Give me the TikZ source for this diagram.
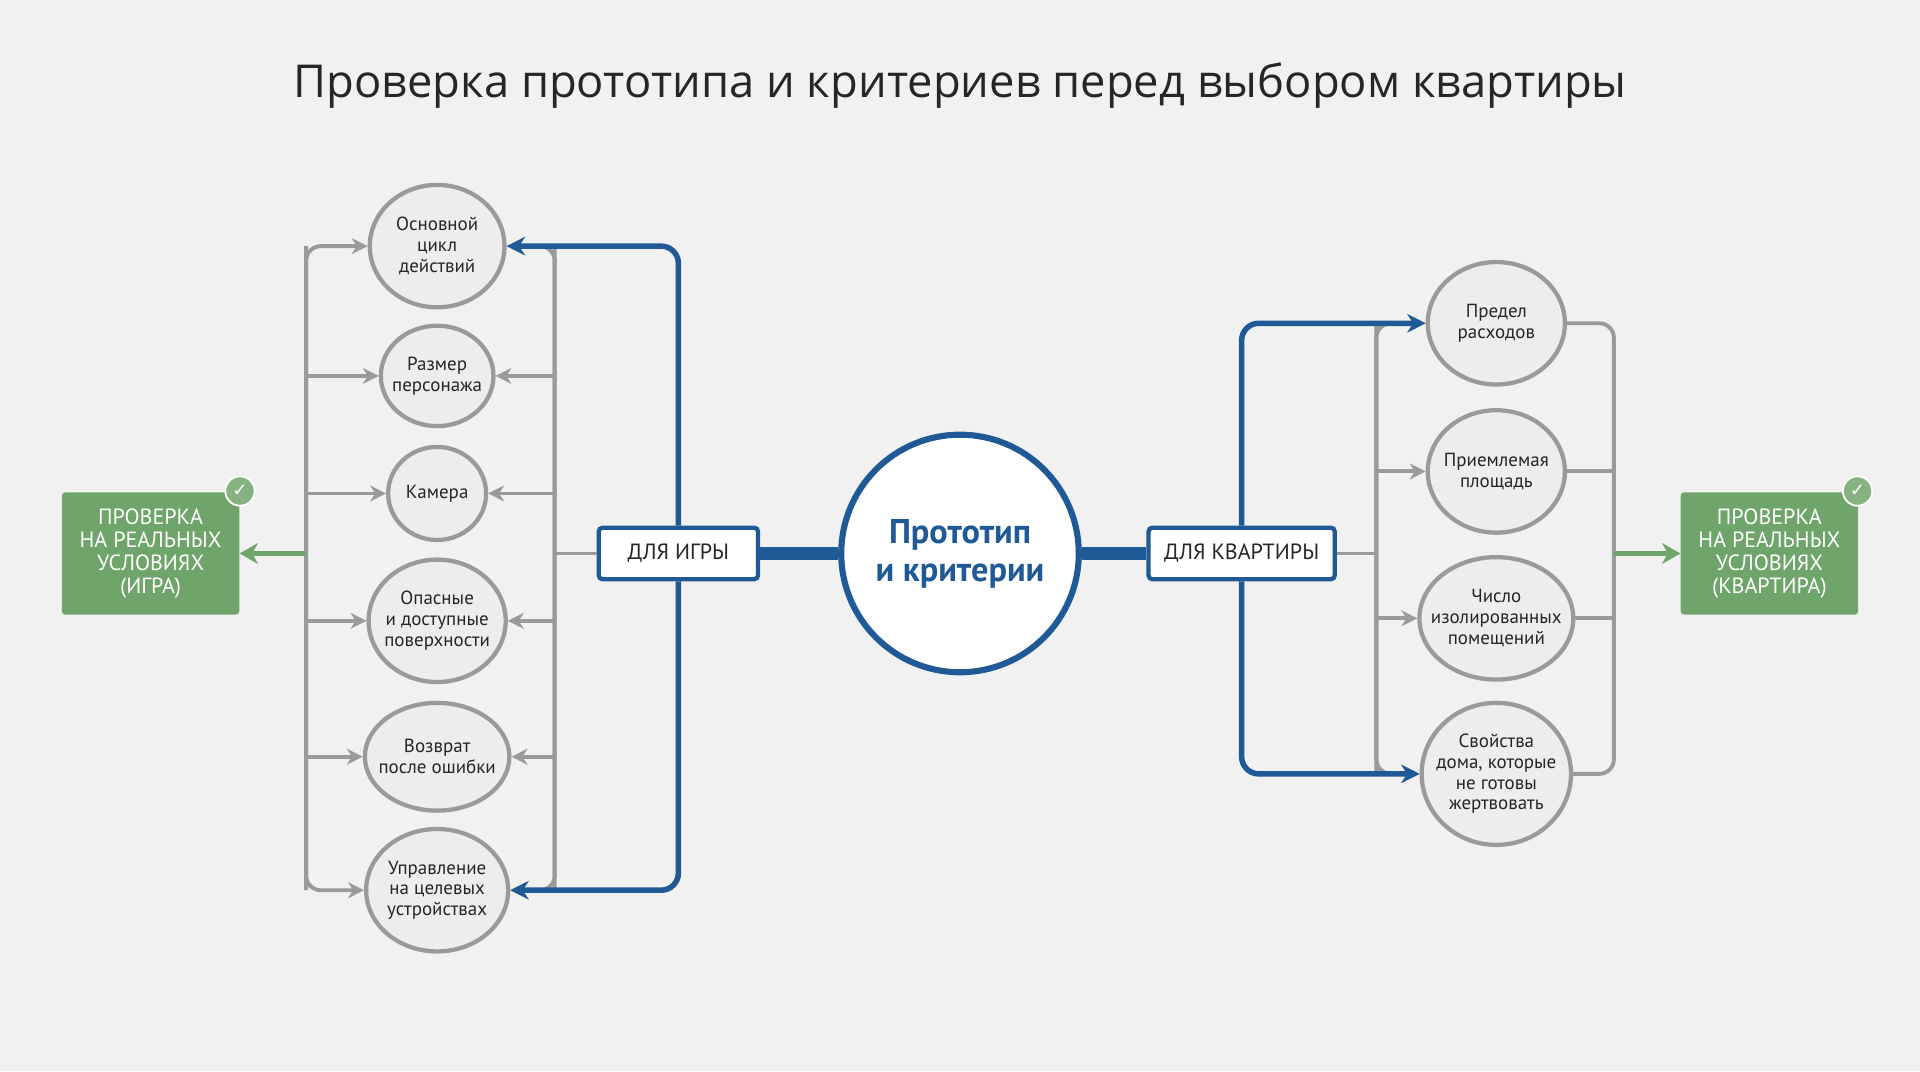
\documentclass[tikz,border=0pt]{standalone}
\usepackage{fontspec}
\setmainfont{PT Sans}
\newfontfamily\titlefont{Open Sans}
\newfontfamily\symfont{DejaVu Sans}
\usetikzlibrary{shapes.geometric,arrows.meta}
\definecolor{bg}{HTML}{F0F1F0}
\definecolor{gr}{HTML}{9A9A9A}
\definecolor{bl}{HTML}{1F5A96}
\definecolor{gn}{HTML}{6FA56A}
\definecolor{cf}{HTML}{EDEDED}
\begin{document}
\begin{tikzpicture}[x=1pt,y=-1pt,
  crit/.style={ellipse,draw=gr,line width=3.5pt,fill=cf,inner sep=-9pt,align=center,font=\fontsize{15.5}{17}\selectfont,text=black!85},
  gl/.style={draw=gr,line width=3.2pt,rounded corners=12pt},
  ga/.style={gl,-{Stealth[length=13pt,width=13pt]}},
  bla/.style={draw=bl,line width=4.5pt,rounded corners=14pt,-{Stealth[length=15pt,width=15pt]}},
  tag/.style={draw=bl,line width=3.5pt,fill=white,rounded corners=3pt,minimum height=42pt,font=\fontsize{18}{18}\selectfont,text=black!85},
  gbox/.style={fill=gn,rounded corners=3pt,minimum width=145pt,minimum height=100pt,align=center,text=white,font=\fontsize{18}{19}\selectfont},
  chk/.style={circle,fill=gn!85,draw=white,line width=1.5pt,minimum size=24pt,inner sep=0pt,text=white,font=\symfont\fontsize{15}{15}\selectfont},
  garr/.style={draw=gn,line width=4pt,-{Stealth[length=15pt,width=17pt]}}]
\fill[bg] (0,0) rectangle (1568,875);
\useasboundingbox (0,0) rectangle (1568,875);
\node[font=\titlefont\fontsize{37}{40}\selectfont,text=black!85] (title) at (784,70) {Проверка прототипа и критериев перед выбором квартиры};

\node[circle,draw=bl,line width=5pt,fill=white,minimum size=194pt,align=center,text=bl,font=\bfseries\fontsize{28}{31}\selectfont] (core) at (784,452) {Прототип\\и критерии};
\node[tag,minimum width=130pt] (tg) at (554,452) {ДЛЯ ИГРЫ};
\node[tag,minimum width=152pt] (tk) at (1014,452) {ДЛЯ КВАРТИРЫ};
\draw[bl,line width=10pt] (tg.east) -- (core.west);
\draw[bl,line width=10pt] (core.east) -- (tk.west);

% left criteria
\node[crit,minimum width=110pt,minimum height=100pt] (a1) at (357,201) {Основной\\цикл\\действий};
\node[crit,minimum width=92pt,minimum height=82pt] (a2) at (357,307) {Размер\\персонажа};
\node[crit,minimum width=80pt,minimum height=76pt] (a3) at (357,403) {Камера};
\node[crit,minimum width=112pt,minimum height=100pt] (a4) at (357,507) {Опасные\\и доступные\\поверхности};
\node[crit,minimum width=118pt,minimum height=88pt] (a5) at (357,618) {Возврат\\после ошибки};
\node[crit,minimum width=116pt,minimum height=100pt] (a6) at (357,727) {Управление\\на целевых\\устройствах};

\coordinate (L) at (250,452);
\coordinate (R) at (453,452);
\node[gbox] (gl) at (123,452) {ПРОВЕРКА\\НА РЕАЛЬНЫХ\\УСЛОВИЯХ\\(ИГРА)};
\node[chk] (gc) at (196,401) {✓};

\draw[ga] (L |- a6) |- (a1.west);
\draw[ga] (L |- a1) |- (a6.west);
\foreach \n in {a2,a3,a4,a5} \draw[ga] (L |- \n) -- (\n.west);
\draw[garr] (L) -- (gl.east);

\draw[ga] (R |- a6) |- (a1.east);
\draw[ga] (R |- a1) |- (a6.east);
\foreach \n in {a2,a3,a4,a5} \draw[ga] (R |- \n) -- (\n.east);
\draw[gl] (tg.west) -- (R);

\draw[bla] (tg.north) |- (a1.east);
\draw[bla] (tg.south) |- (a6.east);

% right criteria
\node[crit,minimum width=112pt,minimum height=100pt] (b1) at (1222,264) {Предел\\расходов};
\node[crit,minimum width=112pt,minimum height=100pt] (b2) at (1222,385) {Приемлемая\\площадь};
\node[crit,minimum width=118pt,minimum height=100pt] (b3) at (1222,505) {Число\\изолированных\\помещений};
\node[crit,minimum width=122pt,minimum height=116pt] (b4) at (1222,632) {Свойства\\дома, которые\\не готовы\\жертвовать};

\coordinate (P) at (1124,452);
\coordinate (Q) at (1318,452);
\node[gbox] (gr) at (1445,452) {ПРОВЕРКА\\НА РЕАЛЬНЫХ\\УСЛОВИЯХ\\(КВАРТИРА)};
\node[chk] (gc2) at (1517,401) {✓};

\draw[ga] (P |- b4) |- (b1.west);
\draw[ga] (P |- b1) |- (b4.west);
\foreach \n in {b2,b3} \draw[ga] (P |- \n) -- (\n.west);
\draw[gl] (tk.east) -- (P);

\draw[gl] (b1.east) -| (Q |- b4) -- (b4.east);
\foreach \n in {b2,b3} \draw[gl] (\n.east) -- (Q |- \n);
\draw[garr] (Q) -- (gr.west);

\draw[bla] (tk.north) |- (b1.west);
\draw[bla] (tk.south) |- (b4.west);
\end{tikzpicture}
\end{document}
